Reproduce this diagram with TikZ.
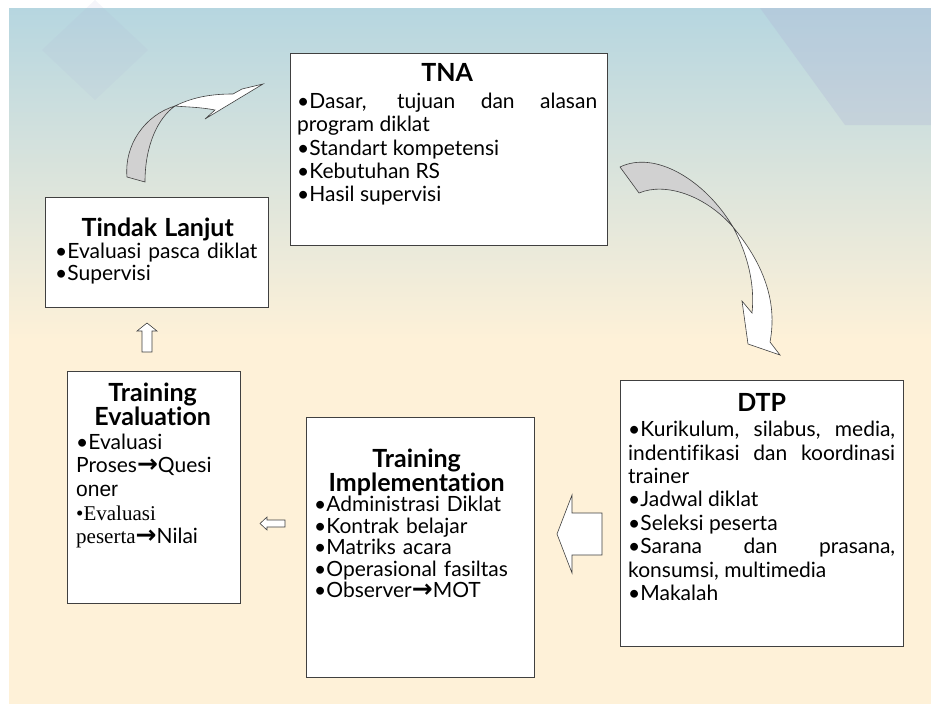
\documentclass[tikz,border=0pt]{standalone}
\usepackage{fontspec}
\setmainfont{Lato}[Ligatures=NoCommon]
\newfontfamily\arrowfont{DejaVu Sans}
\newfontfamily\serifpart{Liberation Serif}
\newfontfamily\arialpart{Liberation Sans}
\usetikzlibrary{positioning}
\setlength{\parindent}{0pt}
\setlength{\parskip}{0pt}
\newcommand{\rarr}{{\arrowfont\bfseries\fontsize{25}{20}\selectfont\char"2192}}
\definecolor{bgtop}{RGB}{182,214,224}
\definecolor{bgbot}{RGB}{254,241,216}
\definecolor{lilac}{RGB}{176,180,214}
\tikzset{
  box/.style={draw=black!75, fill=white, line width=0.8pt, anchor=north west, inner sep=0pt},
  body/.style={anchor=north west, inner sep=0pt, align=justify,
    font=\fontsize{21}{#1}\selectfont},
  body/.default=23.3,
  lbody/.style={body=#1, align=left},
  lbody/.default=23.3,
  front/.style={draw=black!75, fill=white, line width=0.6pt, line join=miter},
  twist/.style={draw=black!75, fill=black!18, line width=0.6pt},
}
\newcommand{\boxhead}[2][0pt]{{\centering\fontsize{25}{24}\selectfont\bfseries #2\par}\vspace{#1}}
\begin{document}
\begin{tikzpicture}[x=1pt, y=-1pt]
% Background
\fill[white] (0,0) rectangle (931,704);
\shade[top color=bgtop, bottom color=bgbot] (9,8) rectangle (931,340);
\fill[bgbot] (9,340) rectangle (931,704);
\fill[lilac, opacity=0.12] (95,0) -- (148,50) -- (95,100) -- (42,50) -- cycle;
\fill[lilac, opacity=0.3] (760,8) -- (931,8) -- (931,125) -- (845,125) -- cycle;
% Curved arrows
\draw[twist] (127,177) .. controls (124,145) and (145,115) .. (175,106)
  .. controls (158,118) and (145,145) .. (145,182) -- cycle;
\draw[front] (175,106) .. controls (195,96) and (215,94) .. (233,94)
  -- (242,89) -- (263,84) -- (205,119) -- (215,110)
  .. controls (200,107) and (185,107) .. (175,106) -- cycle;
\draw[twist] (620,167) .. controls (655,150) and (705,180) .. (733,227)
  .. controls (705,195) and (665,182) .. (639,193) -- cycle;
\draw[front] (733,227) .. controls (762,262) and (778,300) .. (770,342)
  -- (780,355) -- (748,344) -- (742,301) -- (752,313)
  .. controls (755,285) and (748,255) .. (733,227) -- cycle;
% Block arrows
\draw[front] (602,513) -- (572,513) -- (572,495) -- (557,534) -- (572,573)
  -- (572,555) -- (602,555) -- cycle;
\draw[front] (285,520) -- (267,520) -- (267,517) -- (260,523.5) -- (267,530)
  -- (267,527) -- (285,527) -- cycle;
\draw[front] (142,352) -- (142,331) -- (137,331) -- (147,323) -- (157,331)
  -- (152,331) -- (152,352) -- cycle;
% Boxes
\node[box, minimum width=317pt, minimum height=192pt] (tna) at (290,53) {};
\node[box, minimum width=223pt, minimum height=110pt] (tindak) at (45,197) {};
\node[box, minimum width=173pt, minimum height=232pt] (eval) at (67,371) {};
\node[box, minimum width=228pt, minimum height=260pt] (impl) at (306,417) {};
\node[box, minimum width=283pt, minimum height=266pt] (dtp) at (620,380) {};
% Texts
\node[body, text width=300pt, below right=10pt and 7pt of tna.north west] (tnatext) {%
  \boxhead[4pt]{TNA}
  •Dasar, tujuan dan alasan\linebreak program diklat\par
  •Standart kompetensi\par
  •Kebutuhan RS\par
  •Hasil supervisi\par};
\node[lbody=22, text width=205pt, below right=21pt and 10pt of tindak.north west] (tindaktext) {%
  \boxhead{Tindak Lanjut}
  •Evaluasi pasca diklat\par
  •Supervisi\par};
\node[lbody=23.6, text width=153pt, below right=12pt and 9pt of eval.north west] (evaltext) {%
  \boxhead{Training\par Evaluation}
  •Evaluasi\par
  Proses\rarr Quesi\par
  {\arialpart oner\par}
  {\serifpart •Evaluasi\par
  peserta}\rarr Nilai\par};
\node[lbody=21.5, text width=205pt, below right=32pt and 8pt of impl.north west] (impltext) {%
  \boxhead[-1.5pt]{Training\par Implementation}
  •Administrasi Diklat\par
  •Kontrak belajar\par
  •Matriks acara\par
  •Operasional fasiltas\par
  •Observer\rarr MOT\par};
\node[body=23.4, text width=267pt, below right=13pt and 8pt of dtp.north west] (dtptext) {%
  \boxhead[2pt]{DTP}
  •Kurikulum, silabus, media,\linebreak indentifikasi dan koordinasi\linebreak trainer\par
  •Jadwal diklat\par
  •Seleksi peserta\par
  •Sarana dan prasana,\linebreak konsumsi, multimedia\par
  •Makalah\par};
\end{tikzpicture}
\end{document}
